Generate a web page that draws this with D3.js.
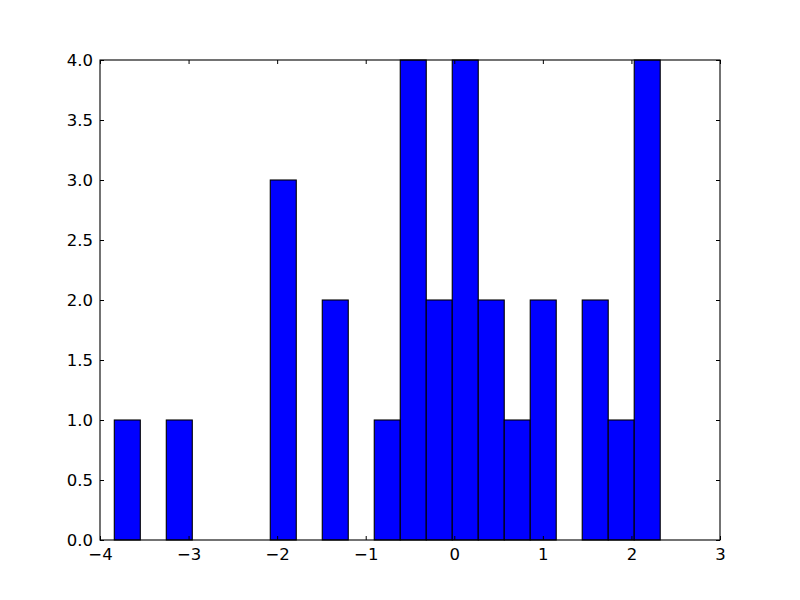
<!DOCTYPE html>
<html>
<head>
<meta charset="utf-8">
<script src="https://cdn.jsdelivr.net/npm/d3@7"></script>
<style>
  body { margin: 0; background: #fff; }
  svg { display: block; }
  text { font-family: "DejaVu Sans", sans-serif; }
</style>
</head>
<body>
<svg id="chart" width="800" height="600"></svg>
<script>
// Histogram: 21 bins from -3.8386 to 2.326
const binStart = -3.8386;
const binWidth = 0.2935;
const counts = [1, 0, 1, 0, 0, 0, 3, 0, 2, 0, 1, 4, 2, 4, 2, 1, 2, 0, 2, 1, 4];
const xTicks = [-4, -3, -2, -1, 0, 1, 2, 3];
const yTicks = [0, 0.5, 1, 1.5, 2, 2.5, 3, 3.5, 4];

(function () {
const svg = d3.select("#chart");
const margin = { left: 100, right: 80, top: 60, bottom: 60 };
const W = 800, H = 600;
const x = d3.scaleLinear().domain([-4, 3]).range([margin.left, W - margin.right]);
const y = d3.scaleLinear().domain([0, 4]).range([H - margin.bottom, margin.top]);

const bins = counts.map((c, i) => ({ x0: binStart + i * binWidth, x1: binStart + (i + 1) * binWidth, c }));

svg.append("g").selectAll("rect").data(bins.filter(d => d.c > 0)).join("rect")
  .attr("x", d => x(d.x0))
  .attr("y", d => y(d.c))
  .attr("width", d => x(d.x1) - x(d.x0))
  .attr("height", d => y(0) - y(d.c))
  .attr("fill", "#0000ff")
  .attr("stroke", "#000")
  .attr("stroke-width", 1.1);

const fs = "16.5px";
const axB = d3.axisBottom(x).tickValues(xTicks).tickSizeInner(-4).tickSizeOuter(0).tickPadding(8)
  .tickFormat(d => d < 0 ? "\u2212" + Math.abs(d) : String(d));
const axT = d3.axisTop(x).tickValues(xTicks).tickSizeInner(-4).tickSizeOuter(0).tickFormat("");
const axL = d3.axisLeft(y).tickValues(yTicks).tickSizeInner(-4).tickSizeOuter(0).tickPadding(7)
  .tickFormat(d3.format(".1f"));
const axR = d3.axisRight(y).tickValues(yTicks).tickSizeInner(-4).tickSizeOuter(0).tickFormat("");

function style(g) {
  g.select(".domain").remove();
  g.selectAll("text").attr("font-size", fs).attr("fill", "#000").attr("font-family", "DejaVu Sans, sans-serif");
  g.selectAll("line").attr("stroke", "#000");
}
svg.append("g").attr("transform", `translate(0,${H - margin.bottom})`).call(axB).call(style);
svg.append("g").attr("transform", `translate(0,${margin.top})`).call(axT).call(style);
svg.append("g").attr("transform", `translate(${margin.left},0)`).call(axL).call(style);
svg.append("g").attr("transform", `translate(${W - margin.right},0)`).call(axR).call(style);

svg.append("rect")
  .attr("x", margin.left).attr("y", margin.top)
  .attr("width", W - margin.left - margin.right)
  .attr("height", H - margin.top - margin.bottom)
  .attr("fill", "none").attr("stroke", "#000").attr("stroke-width", 1.1);
})();
</script>
</body>
</html>
